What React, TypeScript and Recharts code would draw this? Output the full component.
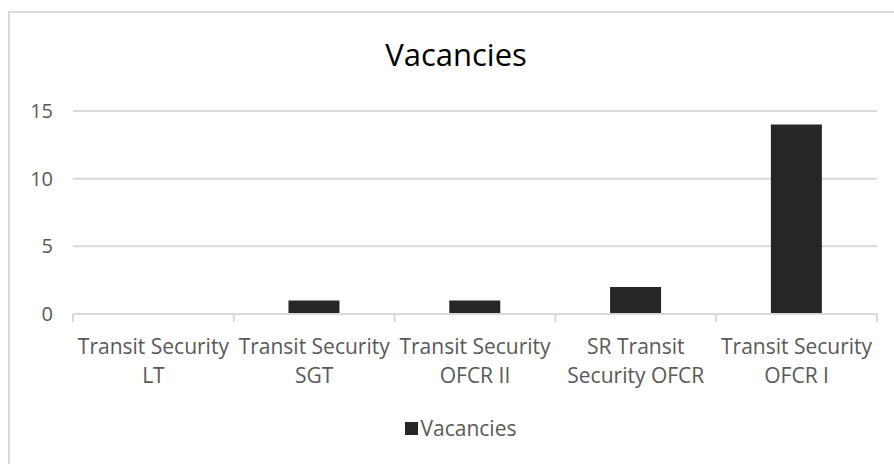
import React from 'react';
import { BarChart, Bar, XAxis, YAxis, CartesianGrid, Legend } from 'recharts';

const categories = [
  'Transit Security LT',
  'Transit Security SGT',
  'Transit Security OFCR II',
  'SR Transit Security OFCR',
  'Transit Security OFCR I',
];
const categoryLines = [
  ['Transit Security', 'LT'],
  ['Transit Security', 'SGT'],
  ['Transit Security', 'OFCR II'],
  ['SR Transit', 'Security OFCR'],
  ['Transit Security', 'OFCR I'],
];
const vacancies = [0, 1, 1, 2, 14];
const yTicks = [0, 5, 10, 15];
const seriesName = 'Vacancies';
const chartTitle = 'Vacancies';

const data = categories.map((c, i) => ({ category: c, vacancies: vacancies[i] }));

const FONT = '"Open Sans", sans-serif';
const GRAY_TEXT = '#595959';
const GRID = '#d9d9d9';
const BAR = '#262626';

const XTick = (props: any) => {
  const { x, y, payload, index, visibleTicksCount } = props;
  const idx = categories.indexOf(payload.value);
  const lines = idx >= 0 ? categoryLines[idx] : [String(payload.value)];
  const half = payload.offset || 0;
  return (
    <g>
      <line x1={x - half} x2={x - half} y1={y} y2={y + 8} stroke={GRID} strokeWidth={2} />
      {index === visibleTicksCount - 1 && (
        <line x1={x + half} x2={x + half} y1={y} y2={y + 8} stroke={GRID} strokeWidth={2} />
      )}
      {lines.map((l, i) => (
        <text
          key={i}
          x={x}
          y={y + 40 + i * 29}
          textAnchor="middle"
          fill={GRAY_TEXT}
          fontFamily={FONT}
          fontSize={21}
        >
          {l}
        </text>
      ))}
    </g>
  );
};

const renderLegend = () => (
  <div
    style={{
      display: 'flex',
      justifyContent: 'center',
      alignItems: 'center',
      fontFamily: FONT,
      fontSize: 21,
      lineHeight: '29px',
      color: GRAY_TEXT,
    }}
  >
    <span style={{ width: 13, height: 13, background: BAR, marginRight: 3, display: 'inline-block' }} />
    <span>{seriesName}</span>
  </div>
);

export default function App() {
  return (
    <div style={{ position: 'absolute', left: 0, top: 0, width: 894, height: 464, overflow: 'hidden', background: '#fff' }}>
      <div
        style={{
          position: 'absolute',
          left: 8,
          top: 11,
          width: 900,
          height: 470,
          border: `2px solid ${GRID}`,
          boxSizing: 'border-box',
        }}
      />
      <div
        style={{
          position: 'absolute',
          left: 0,
          top: 39,
          width: 912,
          textAlign: 'center',
          fontFamily: FONT,
          fontSize: 31,
          lineHeight: '31px',
          color: '#000',
        }}
      >
        {chartTitle}
      </div>
      <div style={{ position: 'absolute', left: 0, top: 0 }}>
        <BarChart
          width={894}
          height={464}
          data={data}
          margin={{ top: 111, right: 17, left: 0, bottom: 21 }}
          barCategoryGap="34%"
        >
          <CartesianGrid vertical={false} stroke={GRID} strokeWidth={2} />
          <XAxis
            dataKey="category"
            axisLine={{ stroke: GRID, strokeWidth: 2 }}
            tickLine={false}
            tickSize={0}
            tickMargin={0}
            height={100}
            interval={0}
            tick={<XTick />}
          />
          <YAxis
            domain={[0, 15]}
            ticks={yTicks}
            axisLine={false}
            tickLine={false}
            width={73}
            tickMargin={14}
            tick={{ fill: GRAY_TEXT, fontSize: 20, fontFamily: FONT }}
          />
          <Legend
            verticalAlign="bottom"
            content={renderLegend}
            wrapperStyle={{ left: 0, width: 894, paddingLeft: 27, boxSizing: 'border-box' }}
          />
          <Bar dataKey="vacancies" name={seriesName} fill={BAR} isAnimationActive={false} />
        </BarChart>
      </div>
    </div>
  );
}
